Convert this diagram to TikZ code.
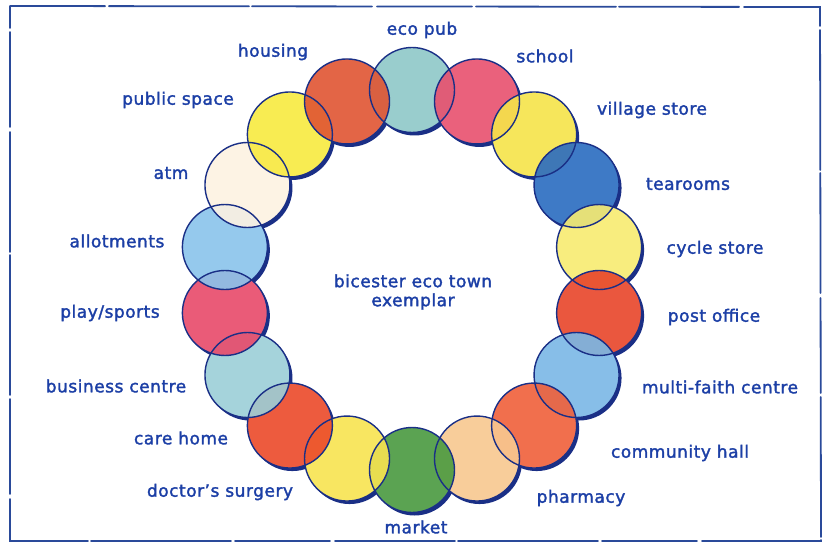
\documentclass[tikz,border=0pt]{standalone}
\usepackage{fontspec}
\setmainfont{DejaVu Sans}[LetterSpace=3,FakeBold=1.8]
\definecolor{ink}{HTML}{1C3FA6}
\definecolor{rim}{HTML}{1A2F86}
\definecolor{frame}{HTML}{2A4A9A}
\begin{document}
\begin{tikzpicture}[x=1pt,y=-1pt,
  lbl/.style={text=ink,font=\fontsize{17}{20}\selectfont,inner sep=0pt,anchor=center},
  disc/.style={fill opacity=0.9},
  rimline/.style={draw=rim,line width=1.4pt},
  shadowdisc/.style={fill=rim}]
\useasboundingbox (0,0) rectangle (824,548);
\fill[white] (0,0) rectangle (824,548);
% hand-drawn frame
\draw[frame,line width=1.8pt,line cap=round,dash pattern=on 95pt off 4pt on 140pt off 3pt on 120pt off 5pt]
  (10,6) -- (820,7) -- (821,541) -- (10,541) -- cycle;
% ring of circles
\def\R{42.5}
\foreach \ang [count=\i] in {90,70,50,30,10,-10,-30,-50,-70,-90,-110,-130,-150,-170,170,150,130,110}{
  \coordinate (c\i) at ({412+190*cos(\ang)},{280-190*sin(\ang)});
}
\foreach \i in {1,...,18}{
  \fill[shadowdisc] ([xshift=2.5pt,yshift=-3pt]c\i) circle (\R);
}
\foreach \i in {1,...,18}{
  \fill[white] (c\i) circle (\R);
}
\foreach \col [count=\i] in {
  8EC8C8, E8506E, F6E44A, 2A6CC0, F8EC70, E8452A,
  7AB8E6, F0603A, F8C890, 4A9A40, F8E450, EC4A2A,
  9CCFD8, E84A6A, 8AC4EC, FDF2E2, F8EA40, E05532}{
  \definecolor{tmp}{HTML}{\col}
  \fill[tmp,disc] (c\i) circle (\R);
}
\foreach \i in {1,...,18}{
  \draw[rimline] (c\i) circle (\R);
}
% labels
\node[lbl] (l1) at (422,30) {eco pub};
\node[lbl] (l2) at (545,56) {school};
\node[lbl] (l3) at (652,110) {village store};
\node[lbl] (l4) at (688,184) {tearooms};
\node[lbl] (l5) at (715,249) {cycle store};
\node[lbl] (l6) at (714,317) {post office};
\node[lbl] (l7) at (720,387) {multi-faith centre};
\node[lbl] (l8) at (680,453) {community hall};
\node[lbl] (l9) at (581,498) {pharmacy};
\node[lbl] (l10) at (416,527) {market};
\node[lbl] (l11) at (220,492) {doctor's surgery};
\node[lbl] (l12) at (181,438) {care home};
\node[lbl] (l13) at (116,386) {business centre};
\node[lbl] (l14) at (110,313) {play/sports};
\node[lbl] (l15) at (117,241) {allotments};
\node[lbl] (l16) at (171,173) {atm};
\node[lbl] (l17) at (178,100) {public space};
\node[lbl] (l18) at (273,52) {housing};
\node[lbl,align=center] (title) at (413,292) {bicester eco town\\[-1pt]exemplar};
\end{tikzpicture}
\end{document}
